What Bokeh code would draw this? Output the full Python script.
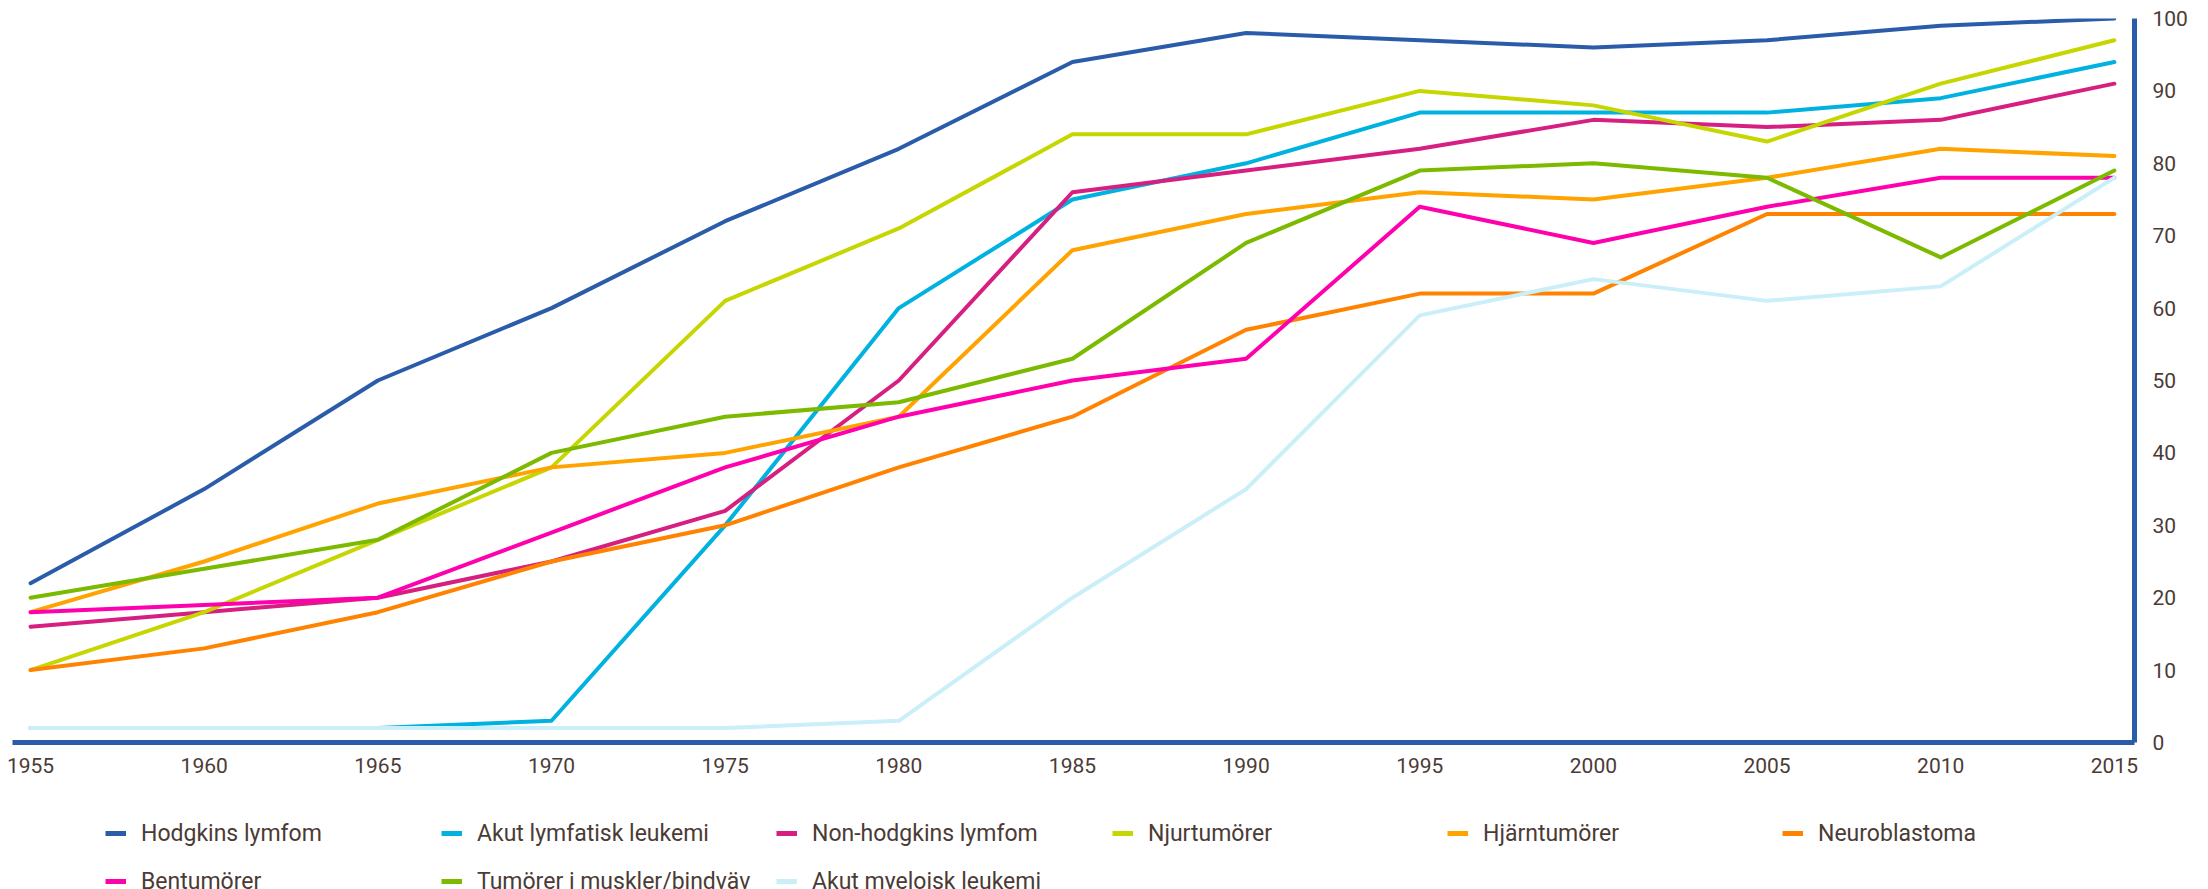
from bokeh.plotting import figure
from bokeh.layouts import column
from bokeh.models import Range1d, FixedTicker, Legend, LegendItem
from bokeh.embed import file_html
from bokeh.resources import INLINE

# Fem års överlevnad (%) för barncancer per diagnosgrupp
years = [1955, 1960, 1965, 1970, 1975, 1980, 1985, 1990, 1995, 2000, 2005, 2010, 2015]

hodgkins = [22, 35, 50, 60, 72, 82, 94, 98, 97, 96, 97, 99, 100]
akut_lymfatisk = [2, 2, 2, 3, 30, 60, 75, 80, 87, 87, 87, 89, 94]
non_hodgkins = [16, 18, 20, 25, 32, 50, 76, 79, 82, 86, 85, 86, 91]
njurtumorer = [10, 18, 28, 38, 61, 71, 84, 84, 90, 88, 83, 91, 97]
hjarntumorer = [18, 25, 33, 38, 40, 45, 68, 73, 76, 75, 78, 82, 81]
neuroblastoma = [10, 13, 18, 25, 30, 38, 45, 57, 62, 62, 73, 73, 73]
bentumorer = [18, 19, 20, 29, 38, 45, 50, 53, 74, 69, 74, 78, 78]
muskler_bindvav = [20, 24, 28, 40, 45, 47, 53, 69, 79, 80, 78, 67, 79]
akut_myeloisk = [2, 2, 2, 2, 2, 3, 20, 35, 59, 64, 61, 63, 78]

series_names = [
    "Hodgkins lymfom", "Akut lymfatisk leukemi", "Non-hodgkins lymfom",
    "Njurtumörer", "Hjärntumörer", "Neuroblastoma",
    "Bentumörer", "Tumörer i muskler/bindväv", "Akut myeloisk leukemi",
]
series_values = [
    hodgkins, akut_lymfatisk, non_hodgkins,
    njurtumorer, hjarntumorer, neuroblastoma,
    bentumorer, muskler_bindvav, akut_myeloisk,
]
series_colors = [
    "#2a5caa", "#00b2e0", "#d61f80",
    "#c6d600", "#ffa300", "#ff8300",
    "#ff00ae", "#7cba00", "#cbeff9",
]

y_ticks = [0, 10, 20, 30, 40, 50, 60, 70, 80, 90, 100]

AXIS_BLUE = "#2a5caa"
TEXT_COLOR = "#4b3b36"
FONT = "Roboto"
W = 2208
CHART_H = 800
LEGEND_H = 89

p = figure(
    width=W, height=CHART_H,
    output_backend="svg", toolbar_location=None,
    x_range=Range1d(1954.48, 2015.58), y_range=Range1d(0, 100),
    y_axis_location="right",
    min_border_left=12, min_border_right=74,
    min_border_top=18, min_border_bottom=CHART_H - 742,
)
p.outline_line_color = None
p.grid.visible = False

for ax, ticks, standoff in ((p.xaxis[0], years, 15), (p.yaxis[0], y_ticks, 18)):
    ax.ticker = FixedTicker(ticks=ticks)
    ax.axis_line_color = AXIS_BLUE
    ax.axis_line_width = 5
    ax.major_tick_line_color = None
    ax.minor_tick_line_color = None
    ax.major_tick_out = 0
    ax.major_tick_in = 0
    ax.major_label_standoff = standoff
    ax.major_label_text_font = FONT
    ax.major_label_text_font_size = "21px"
    ax.major_label_text_color = TEXT_COLOR

for vals, col in zip(series_values, series_colors):
    p.line(years, vals, line_color=col, line_width=4,
           line_join="round", line_cap="round")

# Teckenförklaring i en egen panel under diagrammet: sex kolumner, två rader.
# Panelens serier ligger utanför dess synliga område; bara nycklarna syns.
lp = figure(
    width=W, height=LEGEND_H,
    output_backend="svg", toolbar_location=None,
    x_range=Range1d(0, 1), y_range=Range1d(0, 1),
    x_axis_location=None, y_axis_location=None,
    min_border=0,
)
lp.outline_line_color = None
lp.grid.visible = False

keys = []
for vals, col in zip(series_values, series_colors):
    keys.append(lp.line(years, vals, line_color=col, line_width=5))

col_left = [93, 429, 764, 1100, 1435, 1770]
item_h = 30
row_gap = 18
first_center = 33
columns = [[0, 6], [1, 7], [2, 8], [3], [4], [5]]
for left, idx in zip(col_left, columns):
    items = [LegendItem(label=series_names[i], renderers=[keys[i]]) for i in idx]
    n = len(idx)
    height = n * item_h + (n - 1) * row_gap
    top = first_center - item_h / 2
    bottom = top + height
    lp.add_layout(Legend(
        items=items,
        location=(left, LEGEND_H - bottom),
        orientation="vertical",
        padding=0, margin=0, spacing=row_gap,
        glyph_width=21, glyph_height=item_h, label_height=item_h,
        label_standoff=15,
        label_text_font=FONT, label_text_font_size="23px",
        label_text_color=TEXT_COLOR,
        border_line_color=None, background_fill_alpha=0,
    ), "center")

layout = column(p, lp, spacing=0)
open("out.html", "w").write(file_html(layout, INLINE))
